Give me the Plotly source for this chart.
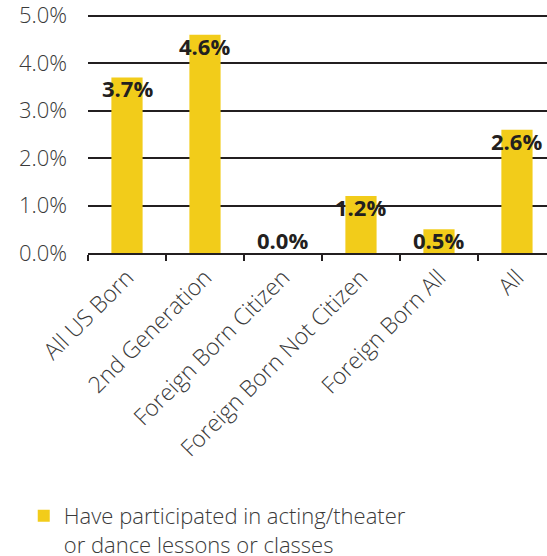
import plotly.graph_objects as go

# Share of each group that has taken acting/theater or dance lessons (%)
categories = [
    "All US Born",
    "2nd Generation",
    "Foreign Born Citizen",
    "Foreign Born Not Citizen",
    "Foreign Born All",
    "All",
]
values = [3.7, 4.6, 0.0, 1.2, 0.5, 2.6]
series_name = "Have participated in acting/theater<br>or dance lessons or classes"
y_ticks = [0, 1, 2, 3, 4, 5]
y_tick_labels = ["0.0%", "1.0%", "2.0%", "3.0%", "4.0%", "5.0%"]

BAR = "#F2CC1A"
INK = "#231F20"
GREY = "#3A3A3A"
FONT = "Open Sans"

fig = go.Figure()
fig.add_trace(go.Bar(
    x=categories,
    y=values,
    name=series_name,
    marker=dict(color=BAR, line=dict(width=0)),
    width=0.4,
    showlegend=True,
))

# value labels tucked just under each bar top; tiny bars keep a floor so text stays above the axis
label_floor = 0.5
for c, v in zip(categories, values):
    fig.add_annotation(
        x=c, y=max(v, label_floor), xref="x", yref="y",
        text=f"{v:.1f}%", showarrow=False, yanchor="top", yshift=6,
        font=dict(family=FONT, size=22, color=INK, weight="bold"),
    )

fig.update_layout(
    width=547, height=556,
    margin=dict(l=88, r=0, t=11, b=303, autoexpand=False),
    paper_bgcolor="white", plot_bgcolor="white",
    font=dict(family=FONT, color=GREY),
    showlegend=True,
    legend=dict(
        x=-0.14, y=-1.0, xanchor="left", yanchor="top", valign="top",
        font=dict(family=FONT, size=22, color=GREY, weight=300),
        itemwidth=30, bgcolor="rgba(0,0,0,0)",
    ),
    xaxis=dict(
        range=[-0.5, 5.385],
        automargin=False,
        tickangle=-45,
        tickfont=dict(family=FONT, size=23, color=GREY, weight=300),
        showline=True, linecolor=INK, linewidth=2,
        ticks="outside", tickson="boundaries", ticklen=6, tickwidth=2, tickcolor=INK,
        showgrid=False,
    ),
    yaxis=dict(
        range=[0, 5.1],
        automargin=False,
        tickvals=y_ticks, ticktext=y_tick_labels,
        tickfont=dict(family=FONT, size=22, color=GREY, weight=300),
        ticklabeloverflow="allow",
        showgrid=True, gridcolor=INK, gridwidth=2,
        zeroline=False, showline=False, ticks="",
        ticklabelstandoff=20,
    ),
)

fig.write_html("out.html")
